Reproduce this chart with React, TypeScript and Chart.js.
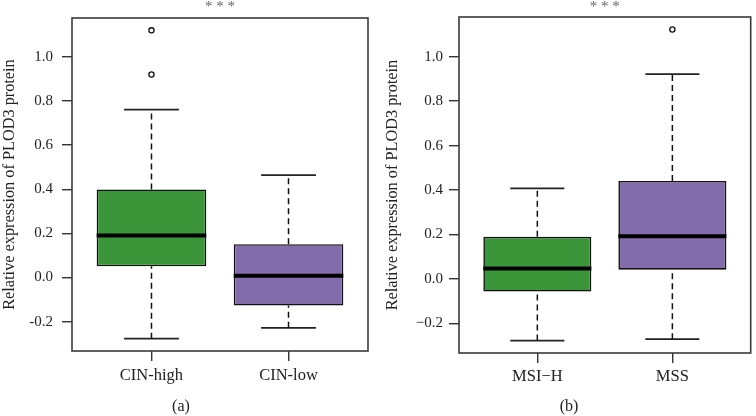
import React, { useEffect, useRef } from "react";
import { Chart, registerables } from "chart.js";

Chart.register(...registerables);

// ---------- Data ----------
const panelACategories = ["CIN-high", "CIN-low"];
const panelALower = [-0.277, -0.228];
const panelAQ1 = [0.051, -0.127];
const panelAMedian = [0.19, 0.008];
const panelAQ3 = [0.399, 0.151];
const panelAUpper = [0.761, 0.464];
const panelAOutliers = [[1.12, 0.92], []];

const panelBCategories = ["MSI\u2212H", "MSS"];
const panelBLower = [-0.278, -0.272];
const panelBQ1 = [-0.057, 0.041];
const panelBMedian = [0.046, 0.192];
const panelBQ3 = [0.189, 0.441];
const panelBUpper = [0.407, 0.922];
const panelBOutliers = [[], [1.123]];

const yTickValues = [-0.2, 0.0, 0.2, 0.4, 0.6, 0.8, 1.0];
const boxColors = ["#3a9639", "#836cab"];

const SERIF = "'Liberation Serif', 'DejaVu Serif', serif";

type PanelSpec = {
  categories: string[];
  lower: number[];
  q1: number[];
  median: number[];
  q3: number[];
  upper: number[];
  outliers: number[][];
  caption: string;
  minus: string;
  width: number;
  height: number;
  padLeftAxis: number;
  padTop: number;
  padRight: number;
  xAxisHeight: number;
  yTitlePad: number;
  yTickPad: number;
  xTickPad: number;
  captionX: number;
};

function buildConfig(p: PanelSpec): any {
  const datasets: any[] = [];
  const outlierPts: { x: number; y: number }[] = [];
  p.outliers.forEach((arr, i) => arr.forEach((v) => outlierPts.push({ x: i + 1, y: v })));
  datasets.push({
    type: "scatter",
    data: outlierPts,
    pointRadius: 2.6,
    pointBackgroundColor: "#ffffff",
    pointBorderColor: "#111111",
    pointBorderWidth: 1.3,
    order: 0,
  });
  p.categories.forEach((_, i) => {
    const x = i + 1;
    datasets.push({
      type: "line",
      data: [
        { x: x - 0.4, y: p.median[i] },
        { x: x + 0.4, y: p.median[i] },
      ],
      borderColor: "#000000",
      borderWidth: 4,
      pointRadius: 0,
      order: 1,
    });
  });
  datasets.push({
    type: "bar",
    data: p.categories.map((_, i) => ({ x: i + 1, y: [p.q1[i], p.q3[i]] })),
    backgroundColor: boxColors,
    borderColor: "#111111",
    borderWidth: 1.6,
    borderSkipped: false,
    barPercentage: 1.0,
    categoryPercentage: 0.8,
    order: 2,
  });
  p.categories.forEach((_, i) => {
    const x = i + 1;
    const whisker = {
      type: "line",
      borderColor: "#111111",
      borderWidth: 1.5,
      borderDash: [6, 4],
      pointRadius: 0,
      order: 3,
    };
    const cap = {
      type: "line",
      borderColor: "#222222",
      borderWidth: 1.7,
      pointRadius: 0,
      order: 3,
    };
    datasets.push({ ...whisker, data: [{ x, y: p.q3[i] }, { x, y: p.upper[i] }] });
    datasets.push({ ...whisker, data: [{ x, y: p.lower[i] }, { x, y: p.q1[i] }] });
    datasets.push({ ...cap, data: [{ x: x - 0.2, y: p.upper[i] }, { x: x + 0.2, y: p.upper[i] }] });
    datasets.push({ ...cap, data: [{ x: x - 0.2, y: p.lower[i] }, { x: x + 0.2, y: p.lower[i] }] });
  });

  const allVals = [...p.lower, ...p.upper, ...p.outliers.flat()];
  const dmin = Math.min(...allVals);
  const dmax = Math.max(...allVals);
  const ext = (dmax - dmin) * 0.04;
  const n = p.categories.length;
  const xExt = n * 0.04;

  const framePlugin = {
    id: "frameAndText",
    afterDraw(chart: any) {
      const { ctx, chartArea } = chart;
      ctx.save();
      ctx.strokeStyle = "#3a3a3a";
      ctx.lineWidth = 1.6;
      ctx.strokeRect(chartArea.left, chartArea.top, chartArea.right - chartArea.left, chartArea.bottom - chartArea.top);
      ctx.fillStyle = "#666666";
      ctx.font = `15px ${SERIF}`;
      ctx.textAlign = "center";
      ctx.textBaseline = "middle";
      ctx.fillText("* * *", (chartArea.left + chartArea.right) / 2, 7);
      ctx.fillStyle = "#222222";
      ctx.font = `16px ${SERIF}`;
      ctx.fillText(p.caption, p.captionX, 407);
      ctx.restore();
    },
  };

  return {
    type: "bar",
    data: { datasets },
    plugins: [framePlugin],
    options: {
      animation: false,
      responsive: false,
      maintainAspectRatio: false,
      layout: { padding: { left: 0, right: p.padRight, top: p.padTop, bottom: 0 } },
      plugins: { legend: { display: false }, tooltip: { enabled: false }, title: { display: false } },
      scales: {
        x: {
          type: "linear",
          offset: false,
          min: 0.5 - xExt,
          max: n + 0.5 + xExt,
          afterBuildTicks: (s: any) => {
            s.ticks = p.categories.map((_, i) => ({ value: i + 1 }));
          },
          afterFit: (s: any) => {
            s.height = p.xAxisHeight;
          },
          ticks: {
            autoSkip: false,
            maxRotation: 0,
            padding: p.xTickPad,
            color: "#222222",
            font: { family: SERIF, size: 16.5 },
            callback: (v: any) => p.categories[Math.round(v) - 1] ?? "",
          },
          grid: {
            offset: false,
            drawOnChartArea: false,
            drawTicks: true,
            tickLength: 10,
            tickColor: "#333333",
            lineWidth: 1.4,
          },
          border: { display: false },
        },
        y: {
          type: "linear",
          min: dmin - ext,
          max: dmax + ext,
          afterBuildTicks: (s: any) => {
            s.ticks = yTickValues.map((v) => ({ value: v }));
          },
          afterFit: (s: any) => {
            s.width = p.padLeftAxis;
          },
          ticks: {
            padding: p.yTickPad,
            color: "#222222",
            font: { family: SERIF, size: 15 },
            callback: (v: any) => {
              const s = Number(v).toFixed(1);
              return s.startsWith("-") ? p.minus + s.slice(1) : s;
            },
          },
          grid: {
            drawOnChartArea: false,
            drawTicks: true,
            tickLength: 10,
            tickColor: "#333333",
            lineWidth: 1.4,
          },
          border: { display: false },
          title: {
            display: true,
            text: "Relative expression of PLOD3 protein",
            color: "#222222",
            font: { family: SERIF, size: 16.3 },
            padding: { top: p.yTitlePad, bottom: 0 },
          },
        },
      },
    },
  };
}

const panelA: PanelSpec = {
  categories: panelACategories,
  lower: panelALower,
  q1: panelAQ1,
  median: panelAMedian,
  q3: panelAQ3,
  upper: panelAUpper,
  outliers: panelAOutliers,
  caption: "(a)",
  minus: "-",
  width: 376,
  height: 416,
  padLeftAxis: 72,
  padTop: 15,
  padRight: 8,
  xAxisHeight: 65,
  yTitlePad: 0,
  yTickPad: 9,
  xTickPad: 5,
  captionX: 181,
};

const panelB: PanelSpec = {
  categories: panelBCategories,
  lower: panelBLower,
  q1: panelBQ1,
  median: panelBMedian,
  q3: panelBQ3,
  upper: panelBUpper,
  outliers: panelBOutliers,
  caption: "(b)",
  minus: "\u2212",
  width: 380,
  height: 416,
  padLeftAxis: 83,
  padTop: 17,
  padRight: 1,
  xAxisHeight: 63,
  yTitlePad: 7,
  yTickPad: 6,
  xTickPad: 4,
  captionX: 193,
};

function Panel({ spec, left }: { spec: PanelSpec; left: number }) {
  const ref = useRef<HTMLCanvasElement | null>(null);
  useEffect(() => {
    if (!ref.current) return;
    const chart = new Chart(ref.current, buildConfig(spec));
    return () => chart.destroy();
  }, [spec]);
  return (
    <canvas
      ref={ref}
      width={spec.width}
      height={spec.height}
      style={{ position: "absolute", left, top: 0, width: spec.width, height: spec.height }}
    />
  );
}

export default function App() {
  return (
    <div style={{ position: "absolute", left: 0, top: 0, width: 756, height: 416, background: "#ffffff" }}>
      <Panel spec={panelA} left={0} />
      <Panel spec={panelB} left={376} />
    </div>
  );
}
